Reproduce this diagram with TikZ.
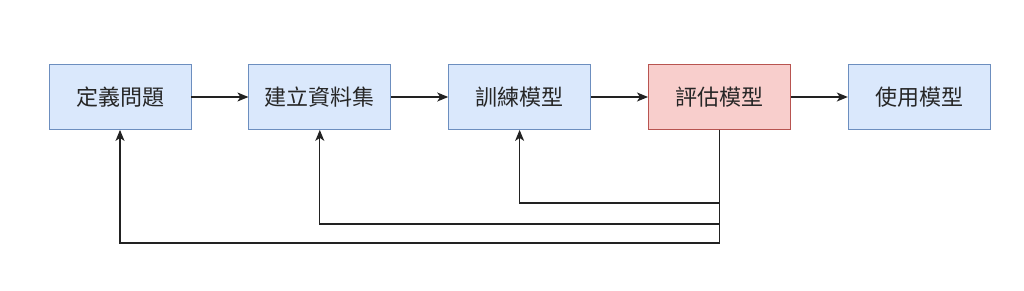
\documentclass[tikz,border=0pt]{standalone}
\usepackage{fontspec}
\newfontfamily\cjk{Noto Sans CJK TC}
\usetikzlibrary{arrows.meta, positioning}

\definecolor{bluefill}{HTML}{DAE8FC}
\definecolor{bluedraw}{HTML}{6C8EBF}
\definecolor{redfill}{HTML}{F8CECC}
\definecolor{reddraw}{HTML}{B85450}
\definecolor{linecol}{HTML}{222222}

\begin{document}
\begin{tikzpicture}[
    x=1pt, y=-1pt,
    box/.style={rectangle, draw=bluedraw, fill=bluefill, line width=0.8pt, minimum width=142pt, minimum height=65pt, align=center, font=\cjk\fontsize{22}{26}\selectfont, text=black!85},
    redbox/.style={box, draw=reddraw, fill=redfill},
    arrow/.style={-{Stealth[length=11pt, width=9pt, inset=3pt]}, line width=1.2pt, draw=linecol}
]
\useasboundingbox (0,0) rectangle (1024,290);
\fill[white] (0,0) rectangle (1024,290);

\node[box] (define) at (120,97) {定義問題};
\node[box, right=57pt of define] (dataset) {建立資料集};
\node[box, right=57pt of dataset] (train) {訓練模型};
\node[redbox, right=57pt of train] (eval) {評估模型};
\node[box, right=57pt of eval] (use) {使用模型};

\draw[arrow] (define) -- (dataset);
\draw[arrow] (dataset) -- (train);
\draw[arrow] (train) -- (eval);
\draw[arrow] (eval) -- (use);

% feedback loops
\draw[arrow] (eval.south) |- ([yshift=-73pt]train.south) -- (train.south);
\draw[arrow] (eval.south) |- ([yshift=-94pt]dataset.south) -- (dataset.south);
\draw[arrow] (eval.south) |- ([yshift=-113pt]define.south) -- (define.south);

\end{tikzpicture}
\end{document}
